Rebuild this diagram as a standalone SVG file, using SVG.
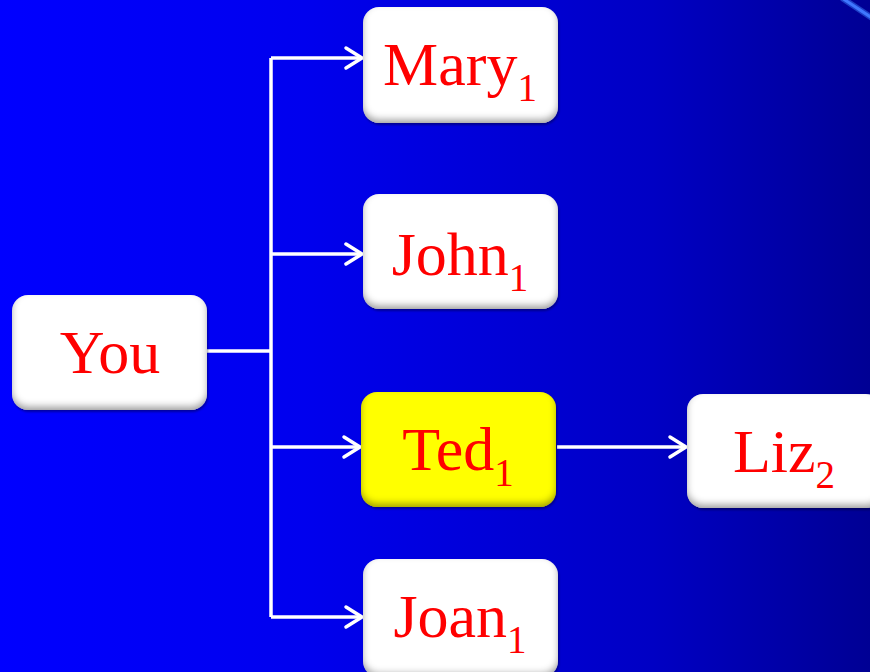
<svg xmlns="http://www.w3.org/2000/svg" width="870" height="672" viewBox="0 0 870 672">
<defs>
<linearGradient id="bg" x1="0" y1="0" x2="1" y2="0">
<stop offset="0" stop-color="#0000ff"/>
<stop offset="0.35" stop-color="#0000ee"/>
<stop offset="0.75" stop-color="#0000c4"/>
<stop offset="1" stop-color="#000094"/>
</linearGradient>
<filter id="bevel" x="-10%" y="-10%" width="120%" height="125%">
<feGaussianBlur in="SourceAlpha" stdDeviation="3.5" result="b"/>
<feOffset in="b" dx="0" dy="-4" result="o"/>
<feComposite in="SourceAlpha" in2="o" operator="out" result="edge"/>
<feFlood flood-color="#000" flood-opacity="0.65"/>
<feComposite in2="edge" operator="in" result="shadow"/>
<feOffset in="SourceAlpha" dx="1" dy="2" result="drop"/>
<feGaussianBlur in="drop" stdDeviation="1" result="dropb"/>
<feFlood flood-color="#000" flood-opacity="0.35"/>
<feComposite in2="dropb" operator="in" result="dropc"/>
<feMerge><feMergeNode in="dropc"/><feMergeNode in="SourceGraphic"/><feMergeNode in="shadow"/></feMerge>
</filter>
<marker id="arr" markerWidth="24" markerHeight="26" refX="19" refY="13" orient="auto" markerUnits="userSpaceOnUse">
<path d="M3,3 L19,13 L3,23" fill="none" stroke="#fff" stroke-width="3.5" stroke-linecap="round" stroke-linejoin="round"/>
</marker>
</defs>
<style>
.box{fill:#fff;filter:url(#bevel)}
.hl{fill:#ffff00}
.lbl{font-family:"Liberation Serif","Times New Roman",serif;font-size:62px;fill:#ff0000;text-anchor:middle}
.sub{font-size:39px}
.ln{stroke:#fff;stroke-width:3.5;fill:none}
</style>
<rect width="870" height="672" fill="url(#bg)"/>
<line x1="842" y1="-2" x2="872" y2="18" stroke="#1d3fc8" stroke-width="6"/>
<line x1="842" y1="-2" x2="872" y2="18" stroke="#3f77ff" stroke-width="3"/>
<g id="connectors">
<polyline class="ln" points="207,351 271,351"/>
<polyline class="ln" points="271,58 271,617"/>
<line class="ln" x1="271" y1="58" x2="362" y2="58" marker-end="url(#arr)"/>
<line class="ln" x1="271" y1="254" x2="362" y2="254" marker-end="url(#arr)"/>
<line class="ln" x1="271" y1="447" x2="360" y2="447" marker-end="url(#arr)"/>
<line class="ln" x1="271" y1="617" x2="362" y2="617" marker-end="url(#arr)"/>
<line class="ln" x1="557" y1="447" x2="686" y2="447" marker-end="url(#arr)"/>
</g>
<g id="you">
<rect class="box" x="12" y="295" width="195" height="115" rx="16"/>
<text class="lbl" x="110" y="373">You</text>
</g>
<g id="mary">
<rect class="box" x="363" y="7" width="195" height="116" rx="16"/>
<text class="lbl" x="460" y="85">Mary<tspan class="sub" dy="16">1</tspan></text>
</g>
<g id="john">
<rect class="box" x="363" y="194" width="195" height="115" rx="16"/>
<text class="lbl" x="460" y="275">John<tspan class="sub" dy="16">1</tspan></text>
</g>
<g id="ted">
<rect class="box hl" x="361" y="392" width="195" height="115" rx="16"/>
<text class="lbl" x="458" y="470">Ted<tspan class="sub" dy="16">1</tspan></text>
</g>
<g id="liz">
<rect class="box" x="687" y="394" width="195" height="114" rx="16"/>
<text class="lbl" x="784" y="472">Liz<tspan class="sub" dy="16">2</tspan></text>
</g>
<g id="joan">
<rect class="box" x="363" y="559" width="195" height="118" rx="16"/>
<text class="lbl" x="460" y="637">Joan<tspan class="sub" dy="16">1</tspan></text>
</g>
</svg>
